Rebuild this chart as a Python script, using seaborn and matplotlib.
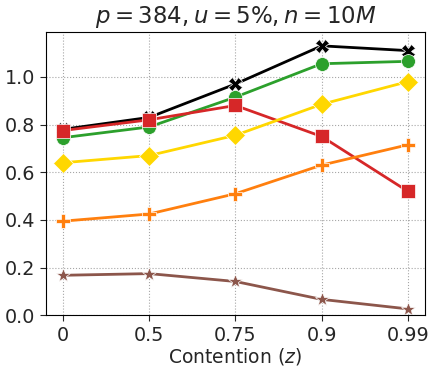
import matplotlib
matplotlib.use("Agg")
import matplotlib.pyplot as plt
import seaborn as sns
import pandas as pd

contention = ["0", "0.5", "0.75", "0.9", "0.99"]
s_black = [0.78, 0.83, 0.97, 1.13, 1.11]
s_green = [0.745, 0.79, 0.915, 1.055, 1.065]
s_red = [0.775, 0.82, 0.88, 0.75, 0.52]
s_yellow = [0.64, 0.67, 0.755, 0.885, 0.98]
s_orange = [0.395, 0.425, 0.51, 0.63, 0.715]
s_brown = [0.168, 0.175, 0.142, 0.067, 0.027]

series = {"A": s_black, "B": s_green, "C": s_red, "D": s_yellow, "E": s_orange, "F": s_brown}
colors = {"A": "black", "B": "#2ca02c", "C": "#d62728", "D": "#ffd700", "E": "#ff7f0e", "F": "#8c564b"}
markers = {"A": "X", "B": "o", "C": "s", "D": "D", "E": "P", "F": "*"}

rows = []
for name, vals in series.items():
    for i, v in enumerate(vals):
        rows.append({"x": i, "y": v, "s": name})
df = pd.DataFrame(rows)

sns.set_style("white")
fig, ax = plt.subplots(figsize=(4.36, 3.71), dpi=100)
sns.lineplot(data=df, x="x", y="y", hue="s", style="s", palette=colors, markers=markers,
             dashes=False, markersize=10, linewidth=2, markeredgewidth=0.5, ax=ax, legend=False)
ax.set_xticks(range(len(contention)))
ax.set_xticklabels(contention)
ax.set_xlim(-0.2, 4.2)
ax.set_ylim(0, 1.19)
ax.set_yticks([0.0, 0.2, 0.4, 0.6, 0.8, 1.0])
ax.grid(True, linestyle=":", color="gray", alpha=0.7)
ax.tick_params(labelsize=13.8, left=True, bottom=True, length=4)
ax.set_xlabel("Contention ($z$)", fontsize=13.5, labelpad=1)
ax.set_ylabel("")
ax.set_title("$p = 384, u = 5\\%, n = 10M$", fontsize=16.5)
for sp in ax.spines.values():
    sp.set_color("black")
fig.subplots_adjust(left=0.105, right=0.975, top=0.915, bottom=0.15)
fig.savefig("out.png", dpi=100)
